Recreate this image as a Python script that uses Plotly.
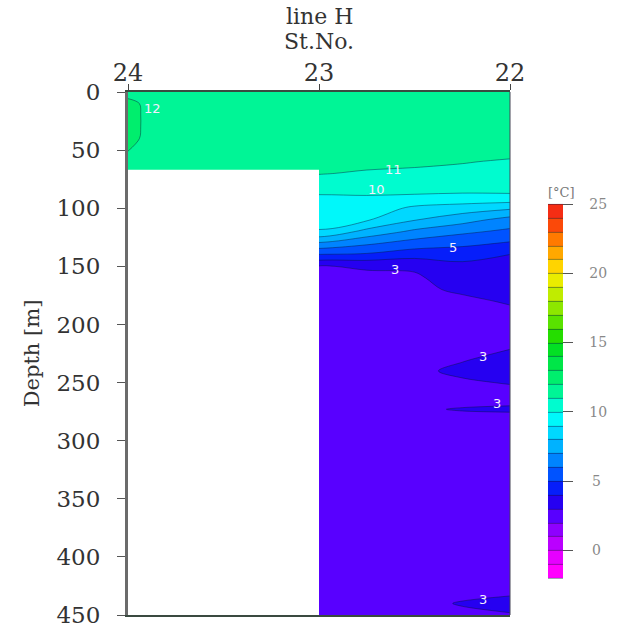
import plotly.graph_objects as go

# ---------------- data ----------------
stations_x = [24.0, 23.9, 23.5, 23.0, 22.75, 22.5, 22.25, 22.0]
depths = [0, 10, 20, 30, 40, 50, 60, 70, 80, 90, 100, 110, 120, 130, 140, 150,
          160, 170, 180, 190, 200, 215, 230, 240, 250, 260, 268, 273, 278, 290,
          320, 380, 420, 432, 440, 450]

N = None
t_2400 = [11.8, 12.15, 12.2, 12.2, 12.15, 12.02, 11.8, 11.6] + [N] * 28
t_2390 = [11.85, 11.9, 11.9, 11.9, 11.9, 11.85, 11.75, 11.6] + [N] * 28
t_2350 = [11.7, 11.7, 11.7, 11.7, 11.7, 11.65, 11.55, 11.45] + [N] * 28
t_2300 = [11.6, 11.6, 11.6, 11.55, 11.5, 11.4, 11.25, 11.05, 10.5, 9.9, 9.6, 9.25,
          8.95, 6.9, 4.95, 2.95, 2.7, 2.65, 2.65, 2.6, 2.6, 2.6, 2.6, 2.6, 2.6, 2.6,
          2.6, 2.6, 2.6, 2.6, 2.55, 2.5, 2.5, 2.5, 2.5, 2.5]
t_2275 = [11.6, 11.6, 11.55, 11.5, 11.45, 11.35, 11.25, 10.9, 10.45, 9.95, 9.6, 9.1,
          7.7, 6.2, 4.85, 3.1, 2.8, 2.7, 2.65, 2.65, 2.65, 2.65, 2.65, 2.65, 2.65, 2.6,
          2.6, 2.6, 2.6, 2.6, 2.6, 2.55, 2.55, 2.55, 2.55, 2.55]
t_2250 = [11.65, 11.65, 11.6, 11.55, 11.45, 11.35, 11.15, 10.85, 10.4, 9.9, 8.8, 8.05,
          6.8, 5.6, 4.4, 3.15, 2.85, 2.8, 2.75, 2.7, 2.7, 2.7, 2.75, 2.85, 2.75, 2.7,
          2.7, 2.8, 2.7, 2.65, 2.65, 2.6, 2.6, 2.65, 2.8, 2.7]
t_2225 = [11.7, 11.7, 11.65, 11.6, 11.5, 11.35, 11.05, 10.75, 10.35, 9.85, 8.5, 7.4,
          6.2, 5.3, 4.3, 3.8, 3.5, 3.15, 2.8, 2.75, 2.7, 2.75, 2.95, 3.15, 2.9, 2.75,
          2.75, 3.1, 2.75, 2.7, 2.65, 2.65, 2.7, 2.85, 3.05, 2.85]
t_2200 = [11.75, 11.75, 11.7, 11.65, 11.55, 11.3, 10.9, 10.65, 10.4, 9.85, 8.15, 6.6,
          5.8, 4.9, 3.98, 3.7, 3.5, 3.3, 3.1, 2.8, 2.7, 2.85, 3.2, 3.3, 3.05, 2.75,
          2.9, 3.15, 2.85, 2.7, 2.65, 2.7, 2.75, 2.95, 3.2, 2.95]

profiles = [t_2400, t_2390, t_2350, t_2300, t_2275, t_2250, t_2225, t_2200]

# bottom of the section between St.24 and St.23 (m)
bottom_st24 = 67
max_depth = 450

x_ticks = [24, 23, 22]
y_ticks = [0, 50, 100, 150, 200, 250, 300, 350, 400, 450]
cbar_ticks = [0, 5, 10, 15, 20, 25]

# contour labels: text, station position, depth
label_text = ["12", "11", "10", "5", "3", "3", "3", "3"]
label_x = [23.87, 22.61, 22.70, 22.30, 22.60, 22.14, 22.07, 22.14]
label_y = [14, 67, 84, 134, 153, 228, 268, 437]

# band colours for levels -2 .. 24
band_colors = [
    (255, 0, 255), (210, 0, 255), (170, 0, 255), (125, 0, 255), (70, 0, 255),
    (25, 0, 235), (0, 40, 255), (0, 95, 255), (0, 140, 255), (0, 185, 255),
    (0, 220, 255), (0, 250, 250), (0, 252, 205), (0, 245, 150), (0, 238, 110),
    (0, 230, 75), (0, 225, 40), (30, 220, 0), (80, 225, 0), (130, 230, 0),
    (180, 235, 0), (225, 240, 0), (255, 225, 0), (255, 185, 0), (255, 140, 0),
    (255, 95, 0), (245, 45, 20),
]

# ---------------- build ----------------
z = [[profiles[j][i] for j in range(len(stations_x))] for i in range(len(depths))]

lev_start, lev_end, lev_size = -2, 25, 1
nlev = int((lev_end - lev_start) / lev_size) + 1
def rgb(c):
    return "rgb(%d,%d,%d)" % c
colorscale = [[0.0, rgb(band_colors[0])]]
for k, c in enumerate(band_colors):
    colorscale.append([(k + 1) / nlev, rgb(c)])
colorscale.append([1.0, rgb(band_colors[-1])])

serif = "DejaVu Serif"
cbar_text = [("\u2003\u2009" if v < 10 else "\u2003") + str(v) for v in cbar_ticks]

fig = go.Figure()
fig.add_trace(go.Contour(
    x=stations_x, y=depths, z=z,
    zmin=lev_start, zmax=lev_end,
    contours=dict(start=lev_start, end=lev_end, size=lev_size, coloring="fill"),
    colorscale=colorscale,
    line=dict(color="rgba(10,20,60,0.55)", width=0.8),
    connectgaps=True,
    hoverinfo="skip",
    colorbar=dict(
        x=1.0995, xanchor="left", xpad=0,
        y=0.0707, yanchor="bottom", ypad=0,
        len=0.753, lenmode="fraction", thickness=15,
        tickvals=cbar_ticks, ticktext=cbar_text, ticks="outside", ticklen=10,
        tickcolor="#555", tickwidth=1,
        tickfont=dict(family=serif, size=14, color="#888"),
        outlinewidth=0,
        title=dict(text="[°C]", side="top", font=dict(family=serif, size=13, color="#777")),
    ),
))

# land / no-data area below the bottom between St.24 and St.23
fig.add_trace(go.Scatter(
    x=[x_ticks[0], x_ticks[1], x_ticks[1], x_ticks[0]],
    y=[bottom_st24, bottom_st24, max_depth, max_depth],
    fill="toself", fillcolor="white", mode="lines", line=dict(width=0),
    hoverinfo="skip", showlegend=False,
))

for t, xx, yy in zip(label_text, label_x, label_y):
    fig.add_annotation(x=xx, y=yy, text=t, showarrow=False,
                       font=dict(family="DejaVu Sans", size=13, color="#f4eeff"))

# section title above the top axis
fig.add_annotation(xref="paper", yref="paper", x=0.5, y=1.1445, yanchor="middle",
                   text="line H", showarrow=False,
                   font=dict(family=serif, size=22, color="#333"))
fig.add_annotation(xref="paper", yref="paper", x=0.5, y=1.0975, yanchor="middle",
                   text="St.No.", showarrow=False,
                   font=dict(family=serif, size=22, color="#333"))

fig.update_layout(
    width=629, height=639,
    margin=dict(l=128, r=119, t=92, b=24),
    paper_bgcolor="white", plot_bgcolor="white",
    showlegend=False,
    font=dict(family=serif, color="#333"),
    xaxis=dict(
        range=[24, 22], side="top", tickvals=x_ticks,
        ticks="outside", ticklen=6, tickcolor="#444", tickwidth=1,
        tickfont=dict(family=serif, size=24, color="#333"),
        ticklabelstandoff=-7,
        showline=True, linecolor="#3a4a40", linewidth=2, mirror=True,
        showgrid=False, zeroline=False,
    ),
    yaxis=dict(
        range=[450, 0], tickvals=y_ticks,
        ticks="outside", ticklen=8, tickcolor="#555", tickwidth=1,
        tickfont=dict(family=serif, size=23, color="#333"),
        ticklabelstandoff=12,
        showline=True, linecolor="#6b6b6b", linewidth=3,
        showgrid=False, zeroline=False,
        title=dict(text="Depth [m]", font=dict(family=serif, size=21, color="#333"),
                   standoff=12),
    ),
)
fig.add_shape(type="line", xref="paper", yref="paper", x0=1, x1=1, y0=0, y1=1,
              line=dict(color="#445", width=1))

fig.write_html("out.html")
